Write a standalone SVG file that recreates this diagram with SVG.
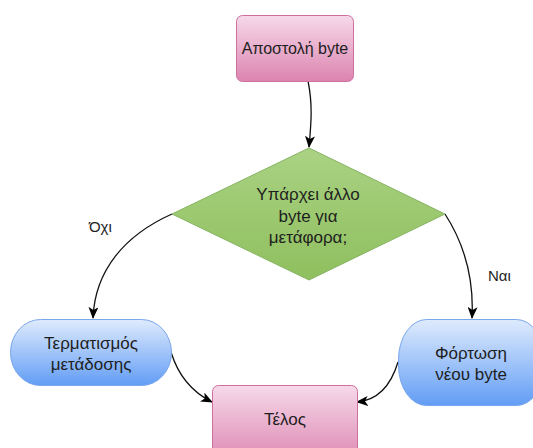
<svg xmlns="http://www.w3.org/2000/svg" width="533" height="448" viewBox="0 0 533 448">
  <defs>
    <linearGradient id="gPink" x1="0" y1="0" x2="0" y2="1">
      <stop offset="0" stop-color="#f6d9e9"/>
      <stop offset="1" stop-color="#dc84b0"/>
    </linearGradient>
    <linearGradient id="gBlue" x1="0" y1="0" x2="0" y2="1">
      <stop offset="0" stop-color="#dfebfd"/>
      <stop offset="1" stop-color="#629df5"/>
    </linearGradient>
    <linearGradient id="gGreen" x1="0" y1="0" x2="0" y2="1">
      <stop offset="0" stop-color="#aad283"/>
      <stop offset="1" stop-color="#8fbf5e"/>
    </linearGradient>
    <marker id="arrow" viewBox="0 0 12 10" refX="11" refY="5" markerWidth="12" markerHeight="10" markerUnits="userSpaceOnUse" orient="auto">
      <path d="M0,0 L12,5 L0,10 L3,5 Z" fill="#000"/>
    </marker>
  </defs>
  <style>
    .lbl { font-family: "Liberation Sans", Arial, sans-serif; font-size: 16px; fill: #1e1e1e; text-anchor: middle; }
    .big { font-size: 17px; }
    .edge-lbl { font-family: "Liberation Sans", Arial, sans-serif; font-size: 15px; fill: #1e1e1e; }
    .pink { fill: url(#gPink); stroke: #cf6f9f; stroke-width: 1; }
    .blue { fill: url(#gBlue); stroke: #79a6ec; stroke-width: 1; }
    .green { fill: url(#gGreen); stroke: #86b463; stroke-width: 1; }
    .edge { fill: none; stroke: #111; stroke-width: 1.3; marker-end: url(#arrow); }
  </style>

  <g id="connectors">
    <path class="edge" d="M308,81 C313,105 311,125 309,147"/>
    <path class="edge" d="M172,214 C125,235 95,270 93,318"/>
    <path class="edge" d="M445,214 C465,245 474,280 472,318"/>
    <path class="edge" d="M171,352 C178,375 192,392 212,402"/>
    <path class="edge" d="M398,362 C392,382 380,400 357,402"/>
    <text class="edge-lbl" x="89" y="232">Όχι</text>
    <text class="edge-lbl" x="488" y="281">Ναι</text>
  </g>

  <g id="send-byte">
    <rect class="pink" x="236.5" y="15.5" width="117" height="66" rx="6"/>
    <text class="lbl" x="295" y="54">Αποστολή byte</text>
  </g>

  <g id="more-bytes">
    <polygon class="green" points="309,148 445,214 309,280 172,214"/>
    <text class="lbl big" x="308" y="200">Υπάρχει άλλο</text>
    <text class="lbl big" x="308" y="222">byte για</text>
    <text class="lbl big" x="308" y="243">μετάφορα;</text>
  </g>

  <g id="end-transfer">
    <rect class="blue" x="10.5" y="319.5" width="161" height="66" rx="30" ry="33"/>
    <text class="lbl big" x="91" y="349">Τερματισμός</text>
    <text class="lbl big" x="91" y="370">μετάδοσης</text>
  </g>

  <g id="load-byte">
    <rect class="blue" x="398.5" y="319.5" width="146" height="86" rx="28" ry="40"/>
    <text class="lbl big" x="471" y="359">Φόρτωση</text>
    <text class="lbl big" x="471" y="380">νέου byte</text>
  </g>

  <g id="end">
    <rect class="pink" x="212.5" y="385.5" width="145" height="80" rx="6"/>
    <text class="lbl big" x="285" y="425">Τέλος</text>
  </g>
</svg>
